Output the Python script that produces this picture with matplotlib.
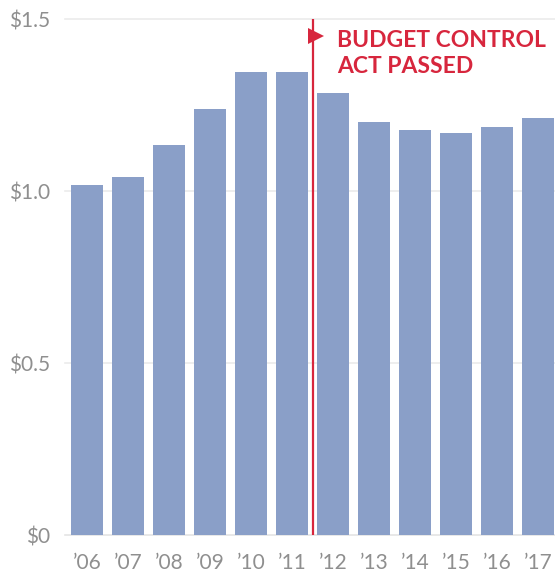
import matplotlib
matplotlib.use("Agg")
import matplotlib.pyplot as plt

# spending in trillions of dollars
years = ["\u201906", "\u201907", "\u201908", "\u201909", "\u201910", "\u201911",
         "\u201912", "\u201913", "\u201914", "\u201915", "\u201916", "\u201917"]
values = [1.018, 1.041, 1.134, 1.239, 1.347, 1.347,
          1.286, 1.202, 1.178, 1.169, 1.187, 1.213]
y_ticks = [0, 0.5, 1.0, 1.5]
y_labels = ["$0", "$0.5", "$1.0", "$1.5"]
event_pos = 5.5
event_text = "BUDGET CONTROL\nACT PASSED"

BAR = "#8a9fc8"
RED = "#d7263d"
GREY = "#8f8f8f"

plt.rcParams["font.family"] = ["Lato", "DejaVu Sans"]

fig = plt.figure(figsize=(5.55, 5.75), dpi=100)
ax = fig.add_axes([65 / 555, 40 / 575, 490 / 555, 516 / 575])

x = list(range(len(years)))
ax.bar(x, values, width=0.78, color=BAR, zorder=2)

ax.set_xlim(-0.54, 11.41)
ax.set_ylim(0, 1.5)
ax.set_yticks(y_ticks)
ax.set_yticklabels(y_labels)
ax.set_xticks(x)
ax.set_xticklabels(years)

for y in y_ticks:
    ax.axhline(y, color="#ebebeb" if y else "#e4e4e4", lw=1.2, zorder=1,
               clip_on=False)

for s in ax.spines.values():
    s.set_visible(False)
ax.tick_params(axis="both", length=0, colors=GREY, labelsize=15)
ax.tick_params(axis="y", pad=11)
ax.tick_params(axis="x", pad=13)

# event marker
ax.axvline(event_pos, color=RED, lw=1.6, zorder=3)
ax.plot([event_pos + 0.09], [1.45], marker=">", color=RED, ms=12,
        mew=0, zorder=4, clip_on=False)
ax.text(event_pos + 0.6, 1.468, event_text, color=RED, fontsize=16.5,
        fontweight="bold", va="top", ha="left", linespacing=1.32)

fig.savefig("out.png", dpi=100)
